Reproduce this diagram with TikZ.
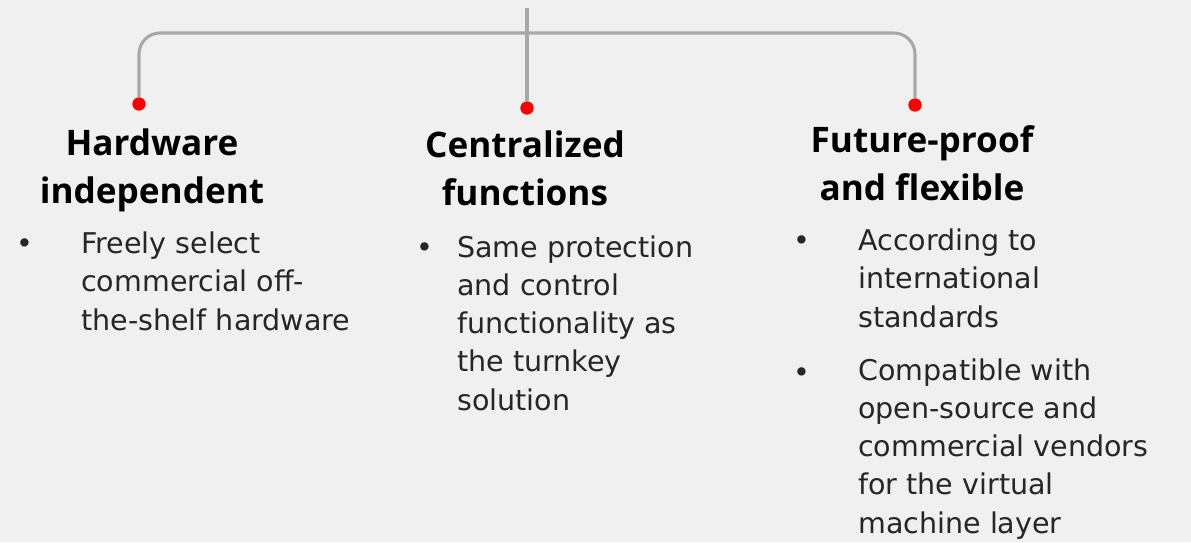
\documentclass[tikz,border=0pt]{standalone}
\usepackage{fontspec}
\setmainfont{DejaVu Sans}
\newfontfamily\fontetitulo{Open Sans}
\usetikzlibrary{positioning}
\definecolor{fundo}{HTML}{F0F0F0}
\definecolor{linha}{HTML}{A8A8A8}
\definecolor{texto}{HTML}{262626}

\begin{document}
\begin{tikzpicture}[x=.025cm,y=-.025cm,
	ponto/.style={circle,fill=red,inner sep=0pt,minimum size=9.5pt},
	conector/.style={draw=linha,line width=2.2pt},
	titulo/.style={inner sep=0pt,anchor=base,align=center,
		font=\fontetitulo\bfseries\fontsize{25}{34.1}\selectfont},
	marca/.style={inner sep=0pt,anchor=base,text=texto,
		font=\fontsize{20.3}{27.2}\selectfont},
	corpo/.style={inner sep=0pt,anchor=base west,align=left,text=texto,
		font=\fontsize{20.3}{27.2}\selectfont}]
	%fundo
	\useasboundingbox[fill=fundo] (0,0) rectangle (1191,542);
	%pontos
	\node[ponto] (p1) at (139,104) {};
	\node[ponto] (p2) at (527,108) {};
	\node[ponto] (p3) at (915,105) {};
	\coordinate (topo) at (527,8);
	\coordinate (barra) at (527,33);
	%chave
	\draw[conector] (topo) -- (p2);
	\draw[conector,rounded corners=15] (p1) |- (barra) -| (p3);
	%titulos (base = ultima linha)
	\node[titulo] (t1) at (152,203) {Hardware\\independent};
	\node[titulo] (t2) at (525,205) {Centralized\\functions};
	\node[titulo] (t3) at (922,200) {Future-proof\\and flexible};
	%itens
	\node[marca] (m1) at (25,253) {\textbullet};
	\node[corpo] (i1) at (81,330) {Freely select\\commercial off-\\the-shelf hardware};
	\node[marca] (m2) at (425,257) {\textbullet};
	\node[corpo] (i2) at (457,410) {Same protection\\and control\\functionality as\\the turnkey\\solution};
	\node[marca] (m3) at (802,250) {\textbullet};
	\node[corpo] (i3) at (858,327) {According to\\international\\standards};
	\node[marca] (m4) at (802,382) {\textbullet};
	\node[corpo] (i4) at (858,533) {Compatible with\\open-source and\\commercial vendors\\for the virtual\\machine layer};
\end{tikzpicture}
\end{document}
